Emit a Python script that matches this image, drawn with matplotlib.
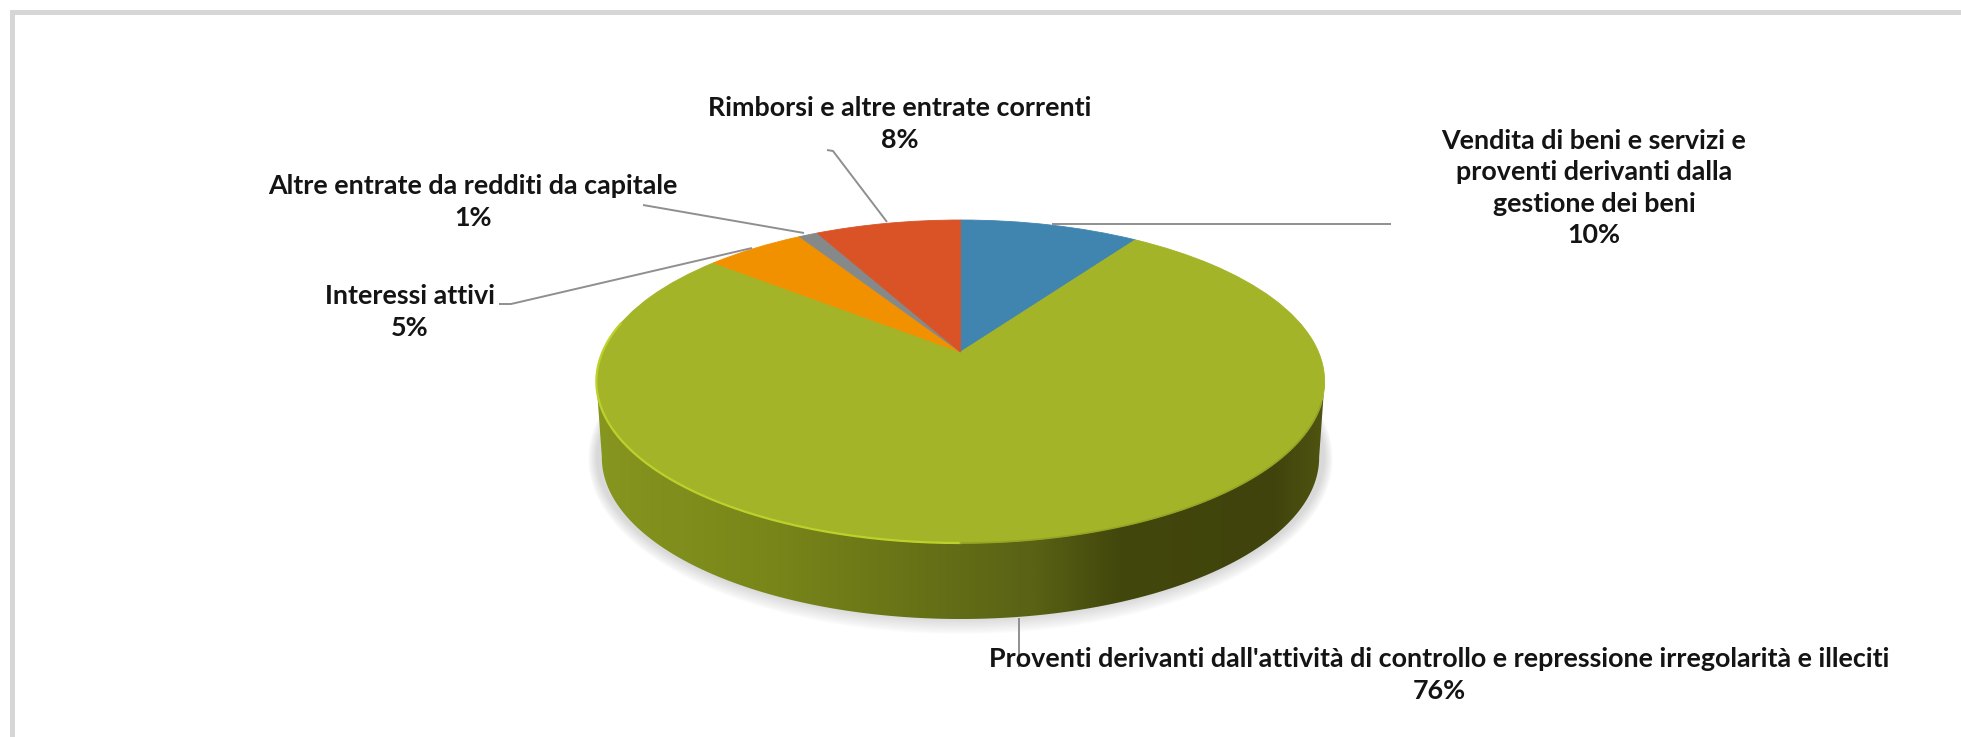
import numpy as np
import matplotlib
matplotlib.use("Agg")
import matplotlib.pyplot as plt
from matplotlib.colors import LinearSegmentedColormap
from matplotlib.transforms import Transform

# data
categories = ["Vendita di beni e servizi e\nproventi derivanti dalla\ngestione dei beni",
              "Proventi derivanti dall'attività di controllo e repressione irregolarità e illeciti",
              "Interessi attivi",
              "Altre entrate da redditi da capitale",
              "Rimborsi e altre entrate correnti"]
shares = [9.5, 76.5, 5.3, 1.0, 7.7]
share_labels = ["10%", "76%", "5%", "1%", "8%"]
colors = ["#3f85b0", "#a3b428", "#f29100", "#85898a", "#d95326"]

# layout, in pixels of the reference
W, H = 1961, 737
CX, CY = 960.5, 352
RX = 358
TILT_C, TILT_P = 0.1827, 91.8
DEPTH = 76
label_xy = [(1594, 188), (1439, 675), (410, 312), (473, 202), (900, 124)]
leaders = [[(1052, 224), (1391, 224)],
           [(1019, 618), (1019, 667)],
           [(499, 304), (511, 304), (752, 248)],
           [(643, 205), (804, 233)],
           [(827, 150), (833, 151), (887, 222)]]

plt.rcParams['font.family'] = ['Lato', 'DejaVu Sans']


def project(xy):
    # flat pie circle -> tilted pie seen in perspective, in pixels
    xy = np.asarray(xy, dtype=float)
    u, v = xy[..., 0], xy[..., 1]
    d = 1 + TILT_C * v
    return np.stack([CX + RX * u / d, (CY - TILT_P * v) / d], axis=-1)


class Tilt(Transform):
    input_dims = 2
    output_dims = 2
    is_affine = False

    def transform_non_affine(self, values):
        return project(values)


fig = plt.figure(figsize=(W / 100, H / 100), dpi=100)
ax = fig.add_axes([0, 0, 1, 1])

# soft shadow under the pie
t = np.linspace(0, 2 * np.pi, 300)
ring = project(np.column_stack([np.sin(t), np.cos(t)]))
mid = ring.mean(axis=0)
for grow in np.linspace(1, 0, 12):
    sx = (ring[:, 0] - mid[0]) * (1 + 8 * grow / RX) + mid[0]
    sy = (ring[:, 1] - mid[1]) * (1 + 14 * grow / 165) + mid[1] + DEPTH
    ax.fill(sx, sy, color="#606060", alpha=0.018, lw=0, zorder=1)

# side wall with a left-to-right gradient
front = np.linspace(np.pi / 2 + 0.18, 3 * np.pi / 2 - 0.18, 200)
front = project(np.column_stack([np.sin(front), np.cos(front)]))
front_l = front[::-1]
wall_x = np.concatenate([front[:, 0], CX + (front_l[:, 0] - CX) * 0.985])
wall_y = np.concatenate([front[:, 1], front_l[:, 1] + DEPTH])
wall = ax.fill(wall_x, wall_y, color="none", lw=0, zorder=2)[0]
wall_cmap = LinearSegmentedColormap.from_list(
    "wall", [(0, "#86961f"), (0.25, "#788519"), (0.6, "#596215"), (0.72, "#42470c"),
             (0.93, "#40440c"), (1, "#4f5412")])
img = ax.imshow(np.linspace(0, 1, 512)[None, :], cmap=wall_cmap, aspect="auto",
                extent=(front[:, 0].min(), front[:, 0].max(), H, 0), zorder=2)
img.set_clip_path(wall)

# pie top
wedges, _ = ax.pie(shares, colors=colors, startangle=90, counterclock=False,
                   wedgeprops=dict(lw=0.6))
tilt = Tilt() + ax.transData
for w, c in zip(wedges, colors):
    w.set_transform(tilt)
    w.set_edgecolor(c)
    w.set_zorder(3)

# light rim along the front of the top
a = np.linspace(np.pi * 1.0, 1.56 * np.pi, 150)
rim = project(np.column_stack([np.sin(a), np.cos(a)]))
ax.plot(rim[:, 0], rim[:, 1], color="#bdd12c", lw=1.6, zorder=4)
a = np.linspace(np.pi * 0.6, 1.0 * np.pi, 80)
rim = project(np.column_stack([np.sin(a), np.cos(a)]))
ax.plot(rim[:, 0], rim[:, 1], color="#95a523", lw=1.2, zorder=4)

# leader lines and labels
for line in leaders:
    xs, ys = zip(*line)
    ax.plot(xs, ys, color="#8f8f8f", lw=1.4, zorder=5, solid_capstyle="butt")
for name, pct, (x, y) in zip(categories, share_labels, label_xy):
    ax.text(x, y, name + "\n" + pct, ha="center", va="center", fontsize=19.4,
            fontweight="bold", color="#141414", linespacing=1.36, zorder=6)

# grey frame of the screenshot, top and left
ax.plot([12, 12, W], [H, 11.5, 11.5], color="#d6d6d6", lw=3.6, zorder=0,
        solid_joinstyle="miter")

ax.set_xlim(0, W)
ax.set_ylim(H, 0)
ax.set_aspect("auto")
ax.axis("off")
fig.savefig("out.png", dpi=100, facecolor="white")
